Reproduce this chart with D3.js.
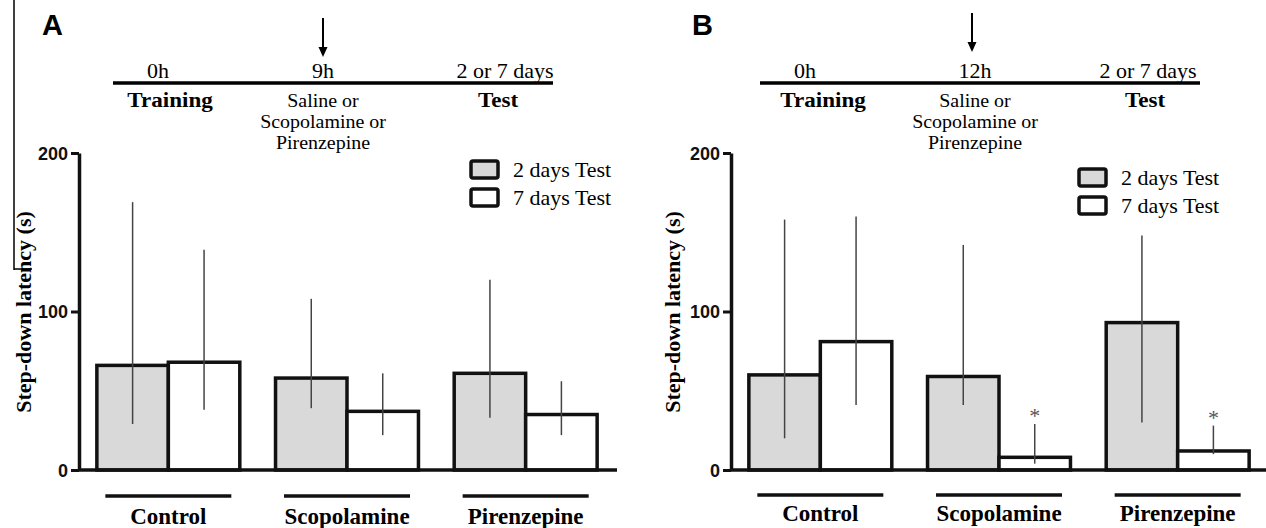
<!DOCTYPE html>
<html>
<head>
<meta charset="utf-8">
<script src="https://cdn.jsdelivr.net/npm/d3@7"></script>
<style>
  body { margin: 0; background: #fff; }
  svg { display: block; }
</style>
</head>
<body>
<script>
// the data
var groups = ["Control", "Scopolamine", "Pirenzepine"];
var series = ["2 days Test", "7 days Test"];
var yTicks = [0, 100, 200];
var yTitle = "Step-down latency (s)";

// panel A: drug given 9h after training
var meanA = [[66, 68], [58, 37], [61, 35]];
var lowA = [[29, 38], [39, 22], [33, 22]];
var highA = [[169, 139], [108, 61], [120, 56]];
var starA = [[false, false], [false, false], [false, false]];
var timeTopA = ["0h", "9h", "2 or 7 days"];

// panel B: drug given 12h after training
var meanB = [[60, 81], [59, 8], [93, 12]];
var lowB = [[20, 41], [41, 4], [30, 10]];
var highB = [[158, 160], [142, 29], [148, 28]];
var starB = [[false, false], [false, true], [false, true]];
var timeTopB = ["0h", "12h", "2 or 7 days"];

var timeBottom = [["Training"], ["Saline or", "Scopolamine or", "Pirenzepine"], ["Test"]];

var serif = "'Liberation Serif', 'Times New Roman', serif";
var sans = "'Liberation Sans', Arial, sans-serif";
var colors = ["#d9d9d9", "#ffffff"];

var width = 1266, height = 528;

var svg = d3.select("body").append("svg")
  .attr("width", width)
  .attr("height", height);

// stray border line at the far left of the page
svg.append("line").attr("x1", 14).attr("x2", 14).attr("y1", 0).attr("y2", 270)
  .attr("stroke", "#000").attr("stroke-width", 1.5);
svg.append("line").attr("x1", 14).attr("x2", 32).attr("y1", 269).attr("y2", 269)
  .attr("stroke", "#000").attr("stroke-width", 1.5);

// serif text, a bit wider than the font as in the scanned figure
function stext(g, x, y, str, size, weight, sx) {
  return g.append("text")
    .attr("transform", "translate(" + x + "," + y + ") scale(" + sx + ",1)")
    .attr("text-anchor", "middle")
    .style("font-family", serif)
    .style("font-size", size + "px")
    .style("font-weight", weight)
    .text(str);
}

function drawPanel(p) {
  var g = svg.append("g");

  // panel letter
  g.append("text")
    .attr("x", p.letterX).attr("y", 35)
    .style("font-family", sans).style("font-weight", "bold").style("font-size", "29px")
    .text(p.letter);

  // timeline
  g.append("line")
    .attr("x1", p.lineX[0]).attr("x2", p.lineX[1]).attr("y1", 83).attr("y2", 83)
    .attr("stroke", "#000").attr("stroke-width", 3.5);
  p.timeTop.forEach(function(t, i) {
    stext(g, p.topX[i], 78, t, 20, "normal", 1.1);
  });
  timeBottom.forEach(function(lines, i) {
    lines.forEach(function(t, j) {
      if (lines.length == 1) {
        stext(g, p.botX[i], 107, t, 21, "bold", 1.1);
      } else {
        stext(g, p.botX[i], 107 + j * 21, t, 19, "normal", 1.05);
      }
    });
  });

  // arrow
  g.append("line")
    .attr("x1", p.arrowX).attr("x2", p.arrowX)
    .attr("y1", p.arrowY[0]).attr("y2", p.arrowY[1] - 8)
    .attr("stroke", "#000").attr("stroke-width", 2);
  g.append("path")
    .attr("d", "M" + (p.arrowX - 4.5) + "," + (p.arrowY[1] - 10) +
               "L" + (p.arrowX + 4.5) + "," + (p.arrowY[1] - 10) +
               "L" + p.arrowX + "," + p.arrowY[1] + "Z")
    .attr("fill", "#000");

  // scales
  var x0 = d3.scaleBand()
    .domain(groups)
    .range([p.ox, p.ox + 536])
    .paddingInner(0.2)
    .paddingOuter(0.1);
  var x1 = d3.scaleBand()
    .domain(series)
    .range([0, x0.bandwidth()]);
  var y = d3.scaleLinear()
    .domain([0, 200])
    .range([470, 153]);

  // bars
  var cells = [];
  groups.forEach(function(gr, i) {
    series.forEach(function(s, j) {
      cells.push({group: gr, series: s, j: j, mean: p.mean[i][j],
                  low: p.low[i][j], high: p.high[i][j], star: p.star[i][j]});
    });
  });

  g.selectAll("rect.bar")
    .data(cells)
    .enter()
    .append("rect")
    .attr("class", "bar")
    .attr("x", function(d) { return x0(d.group) + x1(d.series); })
    .attr("y", function(d) { return y(d.mean); })
    .attr("width", x1.bandwidth())
    .attr("height", function(d) { return y(0) - y(d.mean); })
    .attr("fill", function(d) { return colors[d.j]; })
    .attr("stroke", "#111")
    .attr("stroke-width", 3.5);

  // error bars (no caps)
  g.selectAll("line.err")
    .data(cells)
    .enter()
    .append("line")
    .attr("class", "err")
    .attr("x1", function(d) { return x0(d.group) + x1(d.series) + x1.bandwidth() / 2; })
    .attr("x2", function(d) { return x0(d.group) + x1(d.series) + x1.bandwidth() / 2; })
    .attr("y1", function(d) { return y(d.low); })
    .attr("y2", function(d) { return y(d.high); })
    .attr("stroke", "#444")
    .attr("stroke-width", 1.5);

  // significance stars
  g.selectAll("text.star")
    .data(cells.filter(function(d) { return d.star; }))
    .enter()
    .append("text")
    .attr("class", "star")
    .attr("x", function(d) { return x0(d.group) + x1(d.series) + x1.bandwidth() / 2; })
    .attr("y", function(d) { return y(d.high) - 1; })
    .attr("text-anchor", "middle")
    .style("font-family", serif)
    .style("font-size", "22px")
    .attr("fill", "#555")
    .text("*");

  // y axis
  var yAxis = d3.axisLeft(y)
    .tickValues(yTicks)
    .tickSize(8)
    .tickSizeOuter(0)
    .tickPadding(3);
  var ya = g.append("g")
    .attr("transform", "translate(" + p.ox + ",0)")
    .call(yAxis);
  ya.select(".domain").attr("stroke", "#111").attr("stroke-width", 3.5);
  ya.selectAll(".tick line").attr("stroke", "#111").attr("stroke-width", 3);
  ya.selectAll(".tick text")
    .attr("font-family", sans).attr("font-weight", "bold").attr("font-size", 18)
    .style("font-family", sans).style("font-weight", "bold").style("font-size", "18px")
    .attr("dy", "0.36em")
    .attr("fill", "#111");

  // x axis baseline
  g.append("line")
    .attr("x1", p.ox).attr("x2", p.ox + 538)
    .attr("y1", y(0)).attr("y2", y(0))
    .attr("stroke", "#111").attr("stroke-width", 3.5);

  // y title
  g.append("text")
    .attr("transform", "translate(" + (p.yTitleX + 8) + ",312) rotate(-90)")
    .attr("text-anchor", "middle")
    .style("font-family", serif).style("font-weight", "bold").style("font-size", "22px")
    .text(yTitle);

  // group underlines and names
  groups.forEach(function(gr) {
    var cx = x0(gr) + x0.bandwidth() / 2;
    g.append("line")
      .attr("x1", cx - 63).attr("x2", cx + 63)
      .attr("y1", p.catLineY).attr("y2", p.catLineY)
      .attr("stroke", "#111").attr("stroke-width", 3.5);
    stext(g, cx, p.catY, gr, 23, "bold", 1.0);
  });

  // legend
  series.forEach(function(s, j) {
    var ly = p.legY + j * 28;
    g.append("rect")
      .attr("x", p.legX).attr("y", ly)
      .attr("width", 27).attr("height", 17)
      .attr("rx", 2)
      .attr("fill", colors[j])
      .attr("stroke", "#111").attr("stroke-width", 3.5);
    g.append("text")
      .attr("transform", "translate(" + (p.legX + 42) + "," + (ly + 16) + ") scale(1.1,1)")
      .style("font-family", serif).style("font-size", "20px")
      .text(s);
  });
}

drawPanel({letter: "A", mean: meanA, low: lowA, high: highA, star: starA, timeTop: timeTopA,
           ox: 79, letterX: 42, lineX: [113, 553], topX: [158, 323, 505], botX: [170, 323, 498],
           arrowX: 323, arrowY: [18, 57], legX: 471, legY: 161, yTitleX: 23, catY: 524, catLineY: 496});

drawPanel({letter: "B", mean: meanB, low: lowB, high: highB, star: starB, timeTop: timeTopB,
           ox: 731, letterX: 692, lineX: [760, 1200], topX: [805, 975, 1148], botX: [823, 975, 1145],
           arrowX: 972, arrowY: [13, 52], legX: 1079, legY: 169, yTitleX: 672, catY: 521, catLineY: 495});
</script>
</body>
</html>
